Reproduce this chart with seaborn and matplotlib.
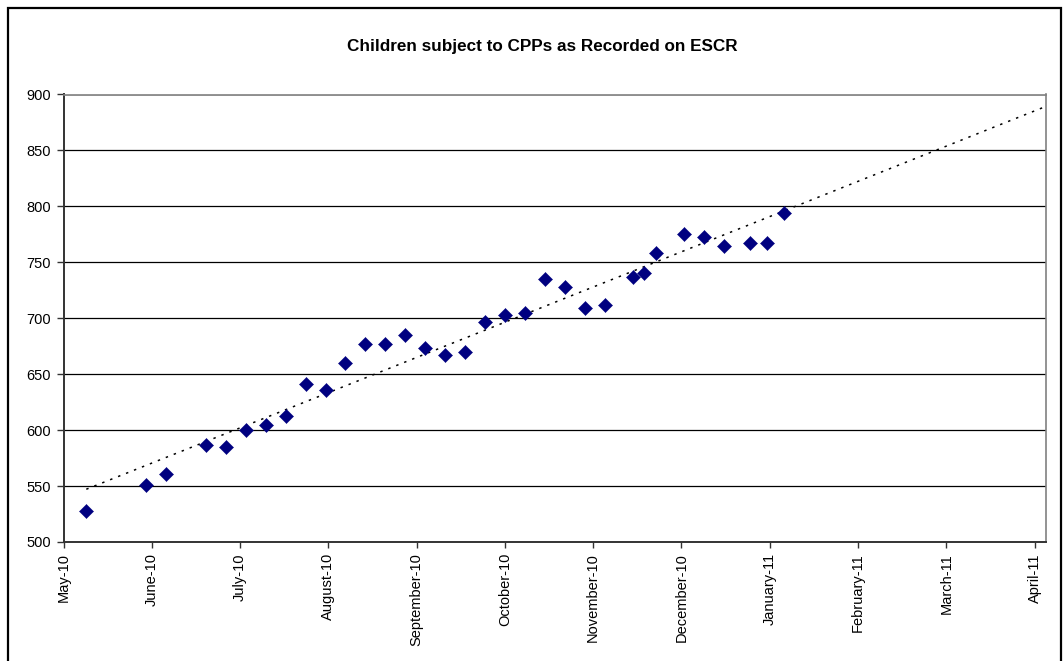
import numpy as np
import pandas as pd
import matplotlib
matplotlib.use("Agg")
import matplotlib.pyplot as plt
import matplotlib.dates as mdates
from matplotlib.patches import Rectangle
import seaborn as sns

# ---- data -------------------------------------------------------------
chart_title = "Children subject to CPPs as Recorded on ESCR"

record_dates = [
    "2010-05-09", "2010-05-30", "2010-06-06", "2010-06-20", "2010-06-27",
    "2010-07-04", "2010-07-11", "2010-07-18", "2010-07-25", "2010-08-01",
    "2010-08-08", "2010-08-15", "2010-08-22", "2010-08-29", "2010-09-05",
    "2010-09-12", "2010-09-19", "2010-09-26", "2010-10-03", "2010-10-10",
    "2010-10-17", "2010-10-24", "2010-10-31", "2010-11-07", "2010-11-17",
    "2010-11-21", "2010-11-25", "2010-12-05", "2010-12-12", "2010-12-19",
    "2010-12-28", "2011-01-03", "2011-01-09",
]
children_cpp = [
    528, 551, 561, 587, 585, 600, 605, 613, 641, 636, 660, 677, 677, 685,
    673, 667, 670, 697, 703, 705, 735, 728, 709, 712, 737, 740, 758, 775,
    773, 765, 767, 767, 794,
]

month_labels = [
    "May-10", "June-10", "July-10", "August-10", "September-10",
    "October-10", "November-10", "December-10", "January-11",
    "February-11", "March-11", "April-11",
]
y_ticks = [500, 550, 600, 650, 700, 750, 800, 850, 900]

axis_start = "2010-05-01"
axis_end = "2011-04-11"
tick_step_days = 31

# ---- figure -----------------------------------------------------------
sns.set_theme(style="white")
plt.rcParams["font.family"] = ["Liberation Sans", "DejaVu Sans"]
plt.rcParams["text.color"] = "black"
plt.rcParams["xtick.labelcolor"] = "black"
plt.rcParams["ytick.labelcolor"] = "black"

df = pd.DataFrame({"date": pd.to_datetime(record_dates), "children": children_cpp})
df["num"] = mdates.date2num(df["date"])

fig = plt.figure(figsize=(10.64, 6.61), dpi=100)
fig.patch.set_facecolor("white")

# chart-area frame
fig.patches.append(Rectangle((8 / 1064, -0.02), 1053 / 1064, 1 - 8 / 661 + 0.02,
                             transform=fig.transFigure, fill=False,
                             edgecolor="black", linewidth=1.6, zorder=0))

ax = fig.add_axes([63.5 / 1064, 1 - 542 / 661, (1046 - 63.5) / 1064, (542 - 94.5) / 661])

x0 = mdates.date2num(pd.Timestamp(axis_start))
x1 = mdates.date2num(pd.Timestamp(axis_end))

# linear trend line, forecast forward to the end of the axis
slope, intercept = np.polyfit(df["num"], df["children"], 1)
trend_x = np.array([df["num"].min(), x1])
ax.plot(trend_x, slope * trend_x + intercept, color="black", linewidth=1.1,
        linestyle=(0, (1.6, 4.0)), zorder=2)

sns.scatterplot(data=df, x="num", y="children", marker="D", s=52,
                color="#000080", edgecolor="#000080", linewidth=0.3,
                ax=ax, zorder=3, legend=False)

ax.set_xlim(x0, x1)
ax.set_ylim(500, 900)
ax.set_yticks(y_ticks)
ax.set_yticklabels([str(v) for v in y_ticks])
ax.set_xticks([x0 + i * tick_step_days for i in range(len(month_labels))])
ax.set_xticklabels(month_labels, rotation=90)
ax.set_xlabel("")
ax.set_ylabel("")

ax.grid(axis="y", color="black", linewidth=0.9)
ax.grid(axis="x", visible=False)
ax.set_axisbelow(True)

for side in ("left", "bottom"):
    ax.spines[side].set_color("#333333")
    ax.spines[side].set_linewidth(1.4)
for side in ("top", "right"):
    ax.spines[side].set_visible(True)
    ax.spines[side].set_color("#808080")
    ax.spines[side].set_linewidth(1.2)

ax.tick_params(axis="y", which="major", direction="out", length=5, width=1,
               color="#333333", labelsize=10.5, pad=4, left=True,
               labelcolor="black")
ax.tick_params(axis="x", which="major", direction="out", length=4, width=1,
               color="#333333", labelsize=10.5, pad=4, bottom=True,
               labelcolor="black")

fig.text(542 / 1064, 1 - 47 / 661, chart_title, ha="center", va="center",
         fontsize=12.3, fontweight="bold", color="black")

fig.savefig("out.png", dpi=100, facecolor="white")
